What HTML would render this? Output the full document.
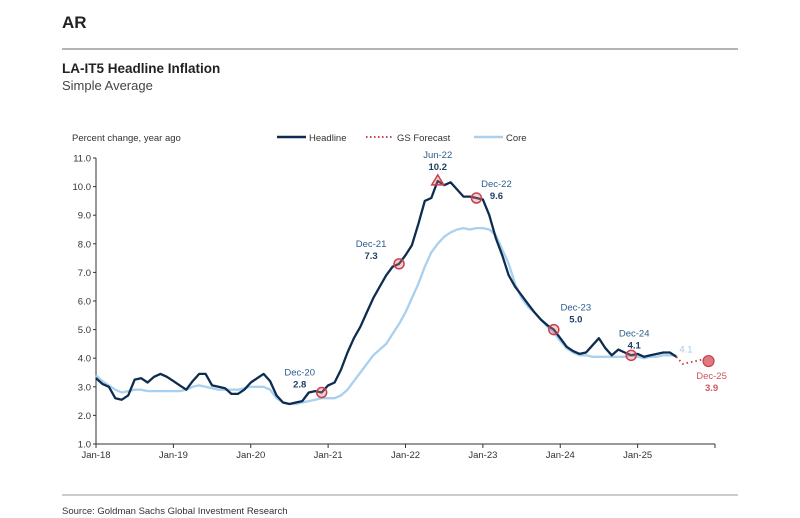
<!DOCTYPE html>
<html><head><meta charset="utf-8"><style>
body{margin:0;background:#fff;width:800px;height:518px;overflow:hidden;font-family:"Liberation Sans",sans-serif;}
svg{display:block}
</style></head><body>
<svg id="chart" width="800" height="518">
<text x="62" y="28" font-size="17" font-weight="bold" fill="#222">AR</text>
<line x1="62" y1="49" x2="738" y2="49" stroke="#888" stroke-width="1.2"/>
<text x="62" y="73" font-size="13.5" font-weight="bold" fill="#222">LA-IT5 Headline Inflation</text>
<text x="62" y="90" font-size="13" fill="#444">Simple Average</text>
<text x="72" y="141" font-size="9.5" fill="#333">Percent change, year ago</text>
<g id="legend">
<line x1="277" y1="137" x2="306" y2="137" stroke="#0d2c4f" stroke-width="2.5"/>
<text x="309" y="141" font-size="9.5" fill="#333">Headline</text>
<line x1="366" y1="137" x2="393" y2="137" stroke="#c8414b" stroke-width="2" stroke-dasharray="1.5,2.5"/>
<text x="397" y="141" font-size="9.5" fill="#333">GS Forecast</text>
<line x1="474" y1="137" x2="503" y2="137" stroke="#a9d0ee" stroke-width="2.5"/>
<text x="506" y="141" font-size="9.5" fill="#333">Core</text>
</g>
<g id="axes"></g>
<g id="series"></g>
<g id="marks"></g>
<line x1="62" y1="495" x2="738" y2="495" stroke="#999" stroke-width="1"/>
<text x="62" y="514" font-size="9.5" fill="#333">Source: Goldman Sachs Global Investment Research</text>
</svg>
<script>
const yTicks=[1,2,3,4,5,6,7,8,9,10,11];
const xTickLabels=["Jan-18","Jan-19","Jan-20","Jan-21","Jan-22","Jan-23","Jan-24","Jan-25",""];
const headline=[3.3,3.1,3.0,2.6,2.55,2.7,3.25,3.3,3.15,3.35,3.45,3.35,
3.2,3.05,2.9,3.2,3.45,3.45,3.05,3.0,2.95,2.75,2.75,2.9,
3.15,3.3,3.45,3.2,2.7,2.45,2.4,2.45,2.5,2.8,2.85,2.8,
3.05,3.15,3.6,4.2,4.7,5.1,5.6,6.1,6.5,6.9,7.2,7.3,
7.6,7.95,8.7,9.5,9.6,10.2,10.05,10.15,9.9,9.65,9.65,9.6,
9.55,9.0,8.2,7.6,6.9,6.5,6.2,5.9,5.6,5.35,5.15,5.0,
4.7,4.4,4.25,4.15,4.2,4.45,4.7,4.35,4.1,4.3,4.2,4.1,
4.15,4.05,4.1,4.15,4.2,4.2,4.05];
const core=[3.4,3.2,3.05,2.9,2.8,2.85,2.9,2.9,2.85,2.85,2.85,2.85,
2.85,2.85,2.9,3.0,3.05,3.0,2.95,2.9,2.9,2.9,2.9,2.95,
3.0,3.0,3.0,2.9,2.6,2.45,2.4,2.4,2.45,2.5,2.55,2.6,
2.6,2.6,2.7,2.9,3.2,3.5,3.8,4.1,4.3,4.5,4.85,5.2,
5.6,6.1,6.6,7.2,7.7,8.0,8.25,8.4,8.5,8.55,8.5,8.55,
8.55,8.5,8.3,7.8,7.3,6.6,6.1,5.8,5.6,5.35,5.1,4.9,
4.6,4.35,4.2,4.1,4.1,4.05,4.05,4.05,4.05,4.05,4.05,4.1,
4.05,4.0,4.05,4.05,4.1,4.1,4.1];
const forecastStart=90;
const forecast=[4.05,3.8,3.85,3.9,3.95,3.9];
const annLabels=["Dec-20","Dec-21","Jun-22","Dec-22","Dec-23","Dec-24"];
const annIdx=[35,47,53,59,71,83];
const annVals=[2.8,7.3,10.2,9.6,5.0,4.1];

const NS="http://www.w3.org/2000/svg";
const X0=96,X1=715,Y0=444,Y1=158;
const x=i=>X0+i*(X1-X0)/96;
const y=v=>Y0-(v-1)*(Y0-Y1)/10;
function el(t,a,p){const e=document.createElementNS(NS,t);for(const k in a)e.setAttribute(k,a[k]);p.appendChild(e);return e;}
const axes=document.getElementById('axes');
const ax=el('line',{x1:X0,y1:Y1,x2:X0,y2:Y0,stroke:'#333','stroke-width':1},axes);


const bx=el('line',{x1:X0,y1:Y0,x2:X1,y2:Y0,stroke:'#333','stroke-width':1},axes);


yTicks.forEach(v=>{
 el('line',{x1:X0-3,y1:y(v),x2:X0,y2:y(v),stroke:'#333'},axes);
 const t=el('text',{x:X0-5,y:y(v)+3.5,'font-size':9.5,'text-anchor':'end',fill:'#333'},axes);
 t.textContent=v.toFixed(1);
 
 
});
xTickLabels.forEach((l,k)=>{
 const xx=x(k*12);
 el('line',{x1:xx,y1:Y0,x2:xx,y2:Y0+4,stroke:'#333'},axes);
 const t=el('text',{x:xx,y:Y0+14,'font-size':9.5,'text-anchor':'middle',fill:'#333'},axes);
 t.textContent=l;
 
 
});
const s=document.getElementById('series');
const pts=(arr,o)=>arr.map((v,i)=>x(i+o).toFixed(1)+','+y(v).toFixed(1)).join(' ');
const c=el('polyline',{points:pts(core,0),fill:'none',stroke:'#a9d0ee','stroke-width':2.3,'stroke-linejoin':'round'},s);


const h=el('polyline',{points:pts(headline,0),fill:'none',stroke:'#0d2c4f','stroke-width':2.3,'stroke-linejoin':'round'},s);


const f=el('polyline',{points:pts(forecast,forecastStart),fill:'none',stroke:'#c8414b','stroke-width':2,'stroke-dasharray':'1.5,3'},s);


const m=document.getElementById('marks');
const offs=[[-22,-17],[-28,-17],[0,-23],[20,-11],[22,-19],[3,-19]];
annIdx.forEach((idx,k)=>{
 const cx=x(idx),cy=y(annVals[k]);
 let mk;
 if(annLabels[k]==="Jun-22"){
  mk=el('polygon',{points:`${cx},${cy-6} ${cx-6},${cy+4} ${cx+6},${cy+4}`,fill:'rgba(230,120,120,0.35)',stroke:'#c8414b','stroke-width':1.5},m);
 } else {
  mk=el('circle',{cx:cx,cy:cy,r:5,fill:'rgba(230,120,120,0.35)',stroke:'#c8414b','stroke-width':1.5},m);
 }
 
 
 const [dx,dy]=offs[k];
 const t1=el('text',{x:cx+dx,y:cy+dy,'font-size':9.5,'text-anchor':'middle',fill:'#2b5c8f'},m);
 t1.textContent=annLabels[k];
 
 
 const t2=el('text',{x:cx+dx,y:cy+dy+12,'font-size':9.5,'font-weight':'bold','text-anchor':'middle',fill:'#1f3f66'},m);
 t2.textContent=annVals[k].toFixed(1);
 
 
});
const lastCore=core[core.length-1];
const lc=el('text',{x:x(core.length-1)+3,y:y(lastCore)-3,'font-size':9.5,fill:'#a9c8e6'},m);
lc.textContent=lastCore.toFixed(1);


const fi=forecastStart+forecast.length-1,fv=forecast[forecast.length-1];
const fc=el('circle',{cx:x(fi),cy:y(fv),r:5.5,fill:'#e07a80',stroke:'#c8414b','stroke-width':1.2},m);


const ft=el('text',{x:x(fi)+3,y:y(fv)+18,'font-size':9.5,'text-anchor':'middle',fill:'#d0555d'},m);
ft.textContent="Dec-25";


const fv2=el('text',{x:x(fi)+3,y:y(fv)+30,'font-size':9.5,'font-weight':'bold','text-anchor':'middle',fill:'#d0555d'},m);
fv2.textContent=fv.toFixed(1);


</script>
</body></html>
